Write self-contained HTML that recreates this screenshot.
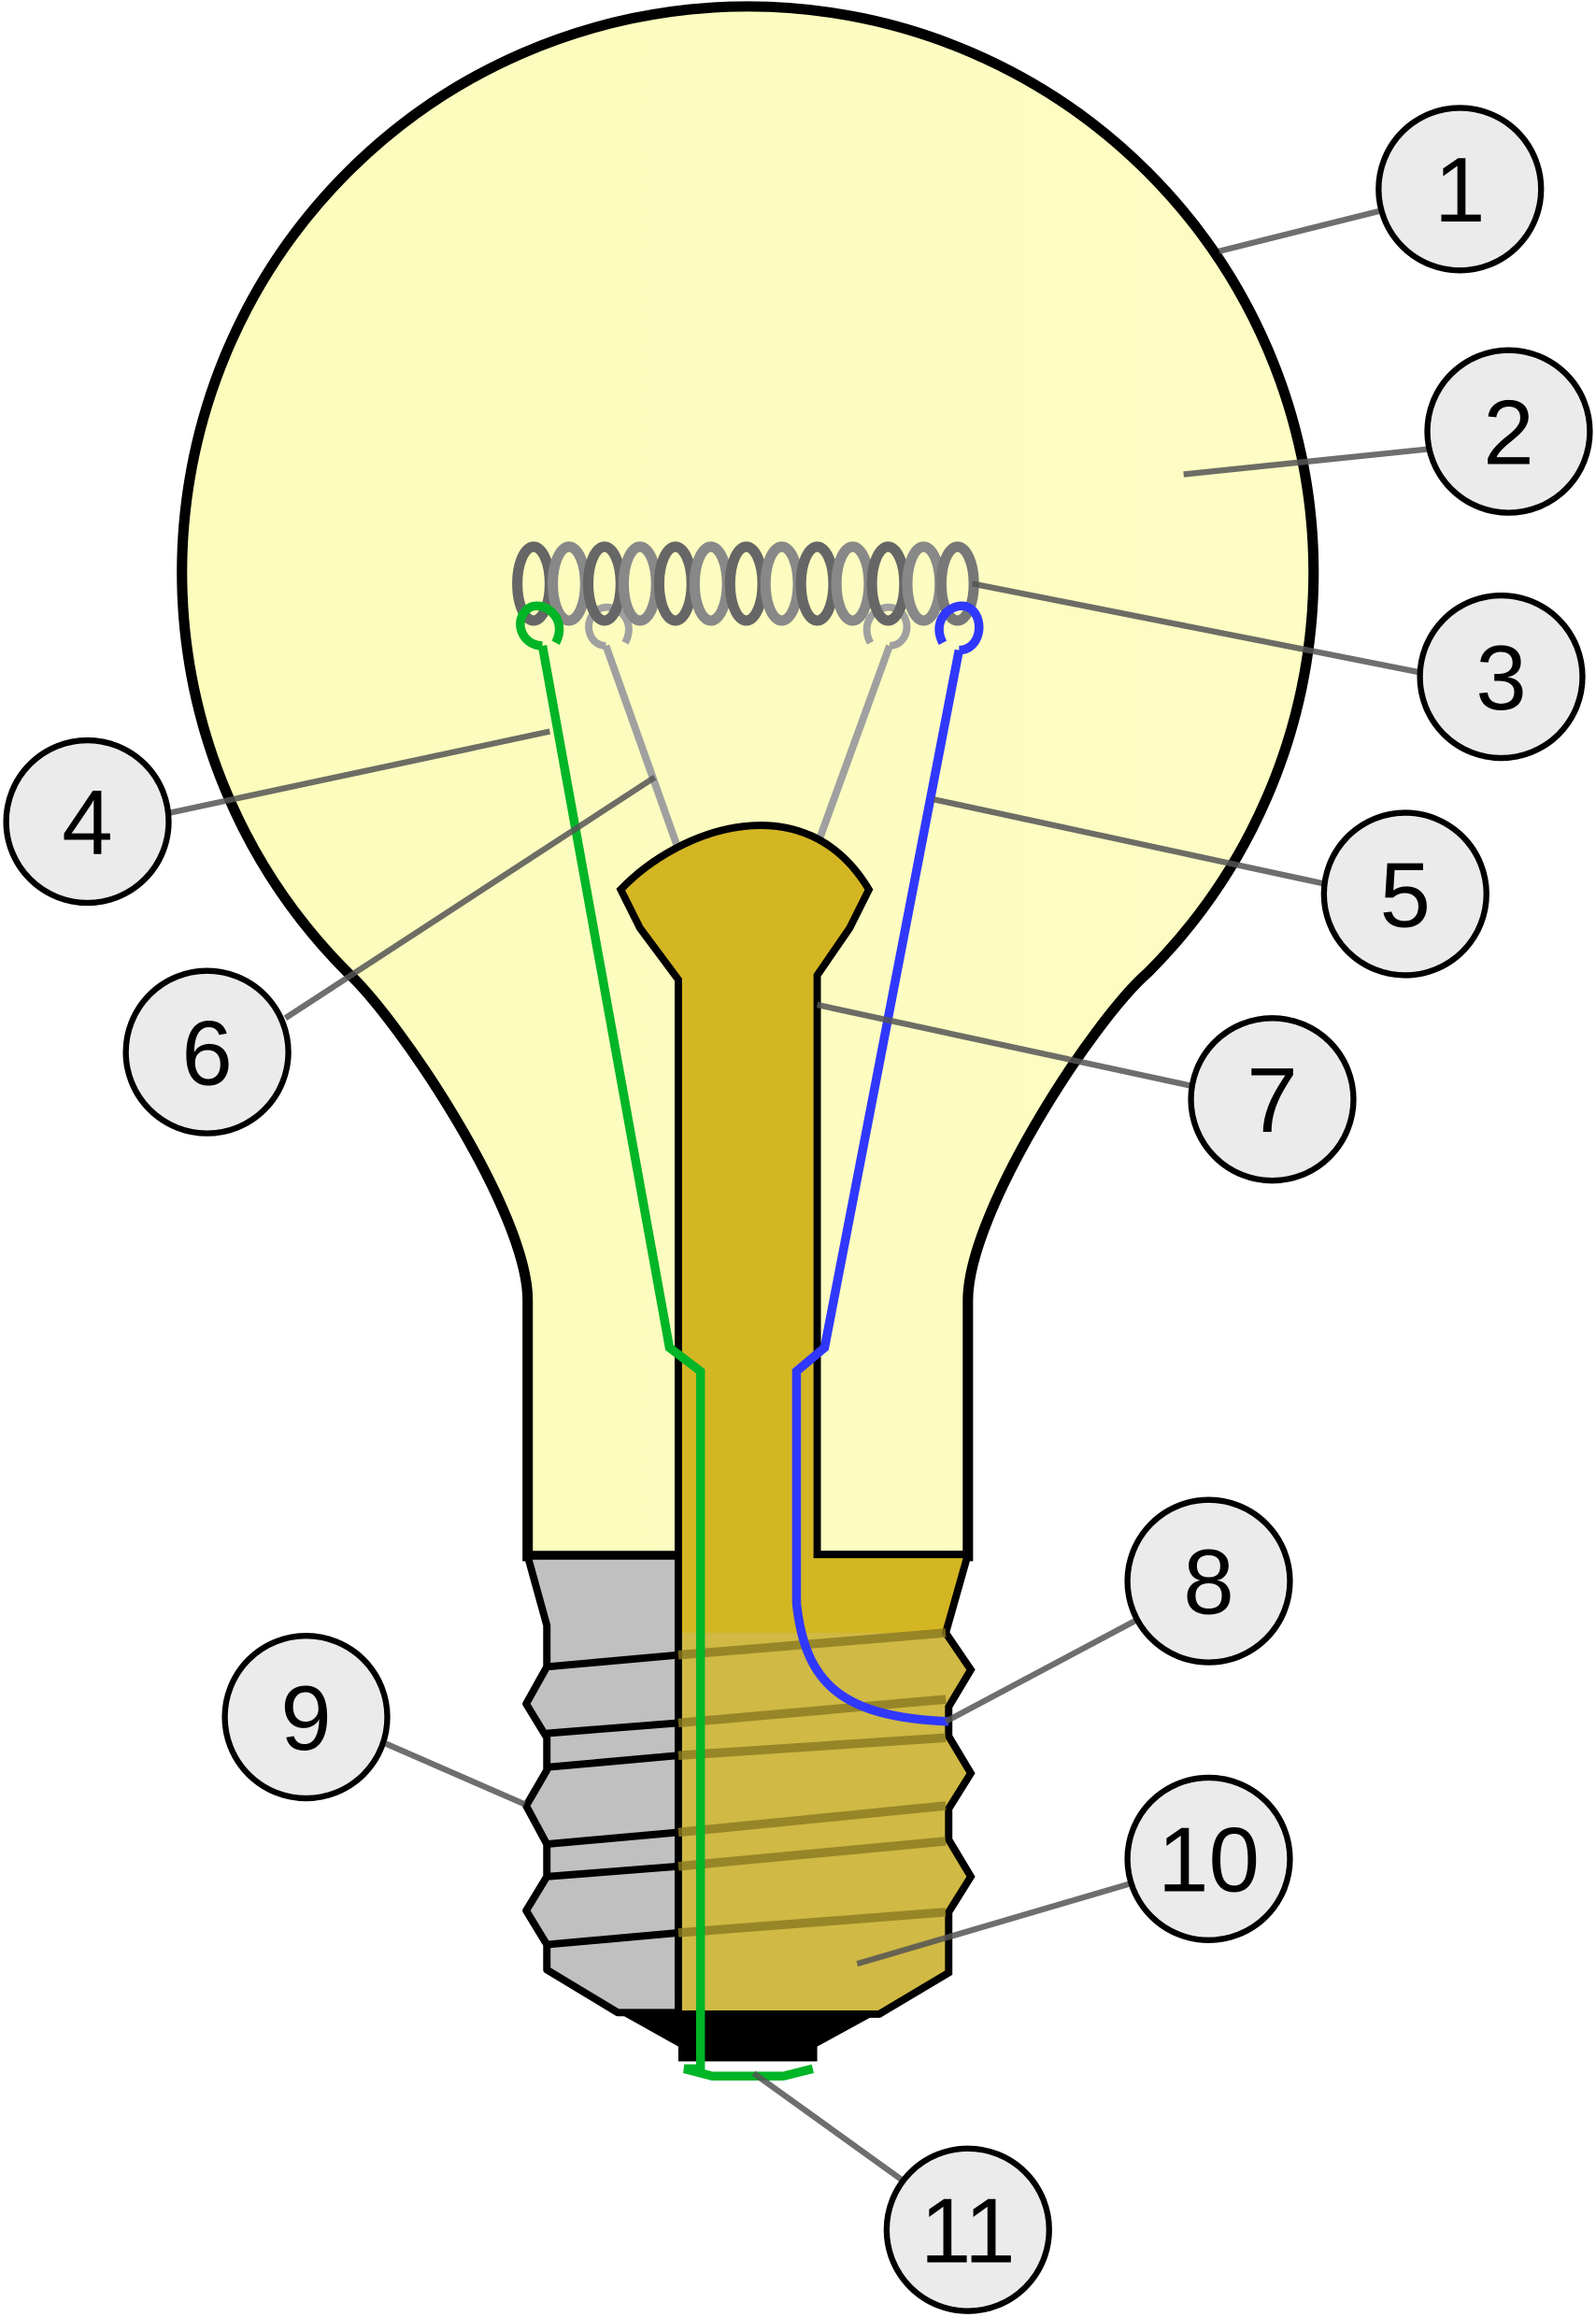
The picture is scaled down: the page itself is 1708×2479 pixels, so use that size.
<!DOCTYPE html>
<html><head><meta charset="utf-8"><style>html,body{margin:0;padding:0;background:#fff}svg{display:block}</style></head>
<body>
<svg width="1708" height="2479" viewBox="0 0 1080 1568" xmlns="http://www.w3.org/2000/svg">
<defs>
<linearGradient id="g" x1="0" y1="0" x2="1" y2="0">
<stop offset="0" stop-color="#fcfcbc"/><stop offset="1" stop-color="#fdfdc4"/>
</linearGradient>
</defs>
<path d="M357,1053 L357,880 C357,820 270,690 235,658 A383,383 0 1 1 777,658 C740,690 655,820 655,880 L655,1053 Z" fill="url(#g)" stroke="#000" stroke-width="7"/>
<g stroke="#a0a0a0" stroke-width="5" fill="none">
<path d="M410,437 L458,572"/><path d="M602,437 L553,572"/>
<path d="M410,437 C398,437 394,420 404,413 C414,406 432,418 423,435"/>
<path d="M602,437 C614,437 618,420 608,413 C598,406 580,418 589,435"/>
</g>
<g fill="none" stroke-width="7">
<ellipse cx="361" cy="395" rx="11" ry="25" stroke="#666"/>
<ellipse cx="385" cy="395" rx="11" ry="25" stroke="#888"/>
<ellipse cx="409" cy="395" rx="11" ry="25" stroke="#666"/>
<ellipse cx="433" cy="395" rx="11" ry="25" stroke="#888"/>
<ellipse cx="457" cy="395" rx="11" ry="25" stroke="#666"/>
<ellipse cx="481" cy="395" rx="11" ry="25" stroke="#888"/>
<ellipse cx="505" cy="395" rx="11" ry="25" stroke="#666"/>
<ellipse cx="529" cy="395" rx="11" ry="25" stroke="#888"/>
<ellipse cx="553" cy="395" rx="11" ry="25" stroke="#666"/>
<ellipse cx="577" cy="395" rx="11" ry="25" stroke="#888"/>
<ellipse cx="601" cy="395" rx="11" ry="25" stroke="#666"/>
<ellipse cx="625" cy="395" rx="11" ry="25" stroke="#888"/>
<ellipse cx="648" cy="395" rx="11" ry="25" stroke="#777"/>
</g>
<path d="M357,1053 L459,1053 L459,1362 L418,1362 L370,1333 L370,1316 L356,1293 L370,1270 L370,1248 L356,1222 L370,1198 L370,1176 L356,1153 L370,1128 L370,1100 Z" fill="#c0c0c0" stroke="#000" stroke-width="5" stroke-linejoin="round"/>
<path d="M420,602 C460,560 545,530 588,602 L575,628 L553,660 L553,1052 L655,1052 L640,1105 L657,1130 L642,1155 L642,1175 L657,1200 L642,1224 L642,1245 L657,1270 L642,1294 L642,1335 L595,1363 L459,1363 L459,663 L433,628 Z" fill="#d4b623"/>
<path d="M459,1105 L640,1105 L657,1130 L642,1155 L642,1175 L657,1200 L642,1224 L642,1245 L657,1270 L642,1294 L642,1335 L595,1361 L459,1361 Z" fill="#cdbb5a" opacity="0.6"/>
<path d="M420,602 C460,560 545,530 588,602 L575,628 L553,660 L553,1052 L655,1052 L640,1105 L657,1130 L642,1155 L642,1175 L657,1200 L642,1224 L642,1245 L657,1270 L642,1294 L642,1335 L595,1363 L459,1363 L459,663 L433,628 Z" fill="none" stroke="#000" stroke-width="5"/>
<g stroke="#000" stroke-width="5">
<line x1="370" y1="1128" x2="459" y2="1120"/><line x1="370" y1="1173" x2="459" y2="1166"/>
<line x1="370" y1="1196" x2="459" y2="1188"/><line x1="370" y1="1248" x2="459" y2="1240"/>
<line x1="370" y1="1270" x2="459" y2="1263"/><line x1="370" y1="1316" x2="459" y2="1308"/>
</g>
<g stroke="#8a7a20" stroke-width="6" opacity="0.8">
<line x1="459" y1="1120" x2="640" y2="1105"/><line x1="459" y1="1166" x2="640" y2="1150"/>
<line x1="459" y1="1188" x2="640" y2="1176"/><line x1="459" y1="1240" x2="640" y2="1222"/>
<line x1="459" y1="1263" x2="640" y2="1246"/><line x1="459" y1="1308" x2="640" y2="1294"/>
</g>
<path d="M418,1362 L595,1362 L553,1385 L553,1395 L459,1395 L459,1385 Z" fill="#000"/>
<path d="M367,437 C353,437 347,420 357,412 C367,405 385,418 376,435" fill="none" stroke="#00b526" stroke-width="6"/>
<path d="M367,437 L453,912 L474,928 L474,1400 L463,1400 L482,1405 L530,1405 L550,1400" fill="none" stroke="#00b526" stroke-width="6"/>
<path d="M649,440 C663,440 667,420 657,412 C647,405 629,418 638,435" fill="none" stroke="#3038ff" stroke-width="6"/>
<path d="M649,440 L558,912 L539,928 L539,1085 C545,1140 570,1162 642,1165" fill="none" stroke="#3038ff" stroke-width="6"/>
<g stroke="#555" stroke-width="4" opacity="0.85">
<line x1="825" y1="170" x2="933" y2="143"/>
<line x1="801" y1="321" x2="966" y2="304"/>
<line x1="658" y1="395" x2="961" y2="455"/>
<line x1="115" y1="550" x2="372" y2="495"/>
<line x1="632" y1="541" x2="896" y2="598"/>
<line x1="193" y1="689" x2="443" y2="526"/>
<line x1="553" y1="680" x2="807" y2="735"/>
<line x1="640" y1="1165" x2="768" y2="1097"/>
<line x1="261" y1="1180" x2="355" y2="1221"/>
<line x1="580" y1="1329" x2="764" y2="1275"/>
<line x1="510" y1="1403" x2="610" y2="1475"/>
</g>
<g fill="#ebebeb" stroke="#000" stroke-width="4">
<circle cx="988" cy="128" r="55"/><circle cx="1021" cy="292" r="55"/><circle cx="1016" cy="458" r="55"/>
<circle cx="59" cy="556" r="55"/><circle cx="951" cy="605" r="55"/><circle cx="140" cy="712" r="55"/>
<circle cx="861" cy="744" r="55"/><circle cx="818" cy="1070" r="55"/><circle cx="207" cy="1162" r="55"/>
<circle cx="818" cy="1258" r="55"/><circle cx="655" cy="1509" r="55"/>
</g>
<g font-family="Liberation Sans, sans-serif" font-size="62" text-anchor="middle" fill="#000">
<text x="988" y="150">1</text><text x="1021" y="314">2</text><text x="1016" y="480">3</text>
<text x="59" y="578">4</text><text x="951" y="627">5</text><text x="140" y="734">6</text>
<text x="861" y="766">7</text><text x="818" y="1092">8</text><text x="207" y="1184">9</text>
<text x="818" y="1280">10</text><text x="655" y="1531">11</text>
</g>
</svg>
</body></html>
